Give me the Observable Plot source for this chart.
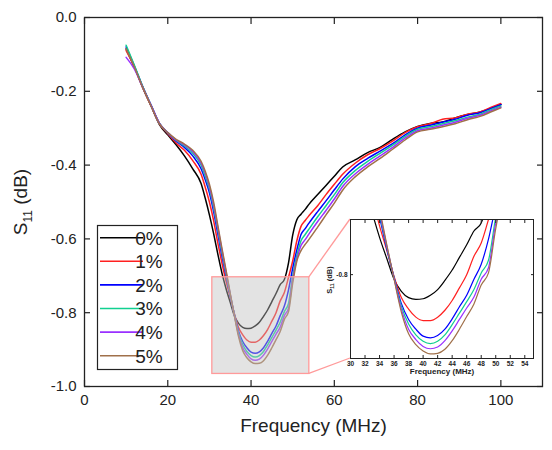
<!DOCTYPE html>
<html><head><meta charset="utf-8">
<script src="https://cdn.jsdelivr.net/npm/d3@7"></script>
<script src="https://cdn.jsdelivr.net/npm/@observablehq/plot@0.6"></script>
<style>
body{margin:0;background:#fff}
#wrap{position:relative;width:552px;height:450px}
#inset{position:absolute;left:318px;top:205px}
</style>
</head><body><div id="wrap"></div>
<script>
// ---- data ----
const freq = [10,12,14,16,18,20,22,24,26,28,29,30,31,32,33,34,35,36,37,38,39,40,41,42,43,44,45,46,47,48,49,50,51,52,53,54,56,58,60,62,65,68,71,74,77,80,83,86,89,92,95,98,100];
const s0 = [-0.085,-0.135,-0.19,-0.24,-0.29,-0.318,-0.345,-0.375,-0.41,-0.45,-0.49,-0.535,-0.585,-0.64,-0.692,-0.735,-0.772,-0.808,-0.829,-0.84,-0.843,-0.842,-0.836,-0.826,-0.81,-0.792,-0.77,-0.748,-0.724,-0.71,-0.665,-0.59,-0.548,-0.533,-0.52,-0.505,-0.48,-0.455,-0.43,-0.405,-0.386,-0.366,-0.352,-0.33,-0.31,-0.295,-0.287,-0.283,-0.272,-0.263,-0.256,-0.244,-0.236];
const s1 = [-0.09,-0.135,-0.19,-0.24,-0.288,-0.315,-0.34,-0.36,-0.388,-0.425,-0.46,-0.5,-0.55,-0.61,-0.665,-0.715,-0.758,-0.803,-0.84,-0.86,-0.874,-0.88,-0.88,-0.874,-0.862,-0.845,-0.823,-0.8,-0.768,-0.745,-0.704,-0.66,-0.605,-0.566,-0.55,-0.536,-0.51,-0.48,-0.452,-0.425,-0.395,-0.372,-0.355,-0.335,-0.312,-0.296,-0.288,-0.276,-0.272,-0.262,-0.256,-0.242,-0.233];
const s2 = [-0.08,-0.132,-0.188,-0.238,-0.287,-0.313,-0.335,-0.352,-0.375,-0.41,-0.44,-0.475,-0.525,-0.585,-0.645,-0.7,-0.755,-0.805,-0.85,-0.878,-0.895,-0.907,-0.91,-0.906,-0.895,-0.877,-0.856,-0.836,-0.808,-0.782,-0.738,-0.68,-0.63,-0.588,-0.572,-0.556,-0.526,-0.497,-0.467,-0.438,-0.405,-0.382,-0.362,-0.342,-0.318,-0.3,-0.292,-0.284,-0.276,-0.265,-0.258,-0.245,-0.236];
const s3 = [-0.075,-0.13,-0.188,-0.238,-0.287,-0.312,-0.333,-0.348,-0.368,-0.4,-0.43,-0.465,-0.515,-0.575,-0.637,-0.695,-0.752,-0.806,-0.855,-0.886,-0.905,-0.916,-0.92,-0.916,-0.905,-0.887,-0.867,-0.847,-0.826,-0.797,-0.775,-0.7,-0.645,-0.605,-0.588,-0.572,-0.54,-0.51,-0.48,-0.448,-0.415,-0.39,-0.368,-0.346,-0.322,-0.303,-0.296,-0.288,-0.28,-0.27,-0.262,-0.248,-0.24];
const s4 = [-0.108,-0.14,-0.19,-0.238,-0.287,-0.312,-0.332,-0.345,-0.363,-0.395,-0.422,-0.458,-0.507,-0.568,-0.63,-0.69,-0.75,-0.807,-0.86,-0.895,-0.913,-0.925,-0.929,-0.926,-0.915,-0.898,-0.878,-0.858,-0.839,-0.808,-0.788,-0.71,-0.655,-0.618,-0.602,-0.585,-0.553,-0.523,-0.492,-0.458,-0.424,-0.398,-0.375,-0.352,-0.327,-0.307,-0.3,-0.292,-0.284,-0.273,-0.265,-0.251,-0.243];
const s5 = [-0.085,-0.135,-0.19,-0.24,-0.288,-0.312,-0.33,-0.343,-0.36,-0.39,-0.417,-0.452,-0.5,-0.562,-0.625,-0.685,-0.748,-0.808,-0.865,-0.903,-0.922,-0.933,-0.938,-0.937,-0.93,-0.915,-0.895,-0.873,-0.851,-0.818,-0.797,-0.72,-0.66,-0.632,-0.615,-0.6,-0.568,-0.535,-0.503,-0.468,-0.432,-0.405,-0.382,-0.357,-0.332,-0.31,-0.303,-0.296,-0.288,-0.277,-0.268,-0.254,-0.245];
const seriesLabels = ["0%","1%","2%","3%","4%","5%"];
const seriesColors = ["#000000","#ff2020","#0000ff","#10d090","#9a30ff","#a0704a"];
const xTicks = [0,20,40,60,80,100];
const yTicks = [-1,-0.8,-0.6,-0.4,-0.2,0];
const insetXTicks = [30,32,34,36,38,40,42,44,46,48,50,52,54];
const insetYTicks = [-0.8];
const zoomX = [30.7, 54];
const zoomY = [-0.966, -0.704];
const insetXDomain = [30, 55.2];
const insetYDomain = [-0.946, -0.704];

const values = [s0,s1,s2,s3,s4,s5];
const rows = seriesLabels.flatMap((s,i) => freq.map((f,j) => ({s, f, v: values[i][j]})));
const fmt = d => d.toFixed(1);
const FONT = "'Liberation Sans', Arial, sans-serif";

const lineMarks = (sw, clip) => seriesLabels.map((lab,i) =>
  Plot.line(rows.filter(d => d.s === lab), {x:"f", y:"v", stroke: seriesColors[i], strokeWidth: sw, curve:"monotone-x", clip}));

// ---- main chart ----
const chart = Plot.plot({
  width: 552, height: 450,
  marginTop: 17, marginRight: 10, marginBottom: 64, marginLeft: 84,
  style: {fontFamily: FONT, fontSize: "15px", color: "#222", background: "white"},
  x: {domain: [0,110]},
  y: {domain: [-1,0]},
  marks: [
    ...lineMarks(1.5, false),
    Plot.rect([{x1: zoomX[0], x2: zoomX[1], y1: zoomY[0], y2: zoomY[1]}],
      {x1:"x1", x2:"x2", y1:"y1", y2:"y2", fill:"#c0c0c0", fillOpacity:0.44, stroke:"#ff9a9a", strokeWidth:1.3}),
    Plot.axisX(xTicks, {anchor:"bottom", tickSize:-6, fill:"none", strokeWidth:1.2}),
    Plot.axisX(xTicks, {anchor:"top", tickSize:-6, fill:"none", strokeWidth:1.2}),
    Plot.axisY(yTicks, {anchor:"left", tickSize:-6, fill:"none", strokeWidth:1.2}),
    Plot.axisY(yTicks, {anchor:"right", tickSize:-6, fill:"none", strokeWidth:1.2}),
    Plot.axisX(xTicks, {anchor:"bottom", tickSize:0, tickPadding:8, label:null, fontSize:15}),
    Plot.axisY(yTicks, {anchor:"left", tickSize:0, tickPadding:8, tickFormat: fmt, label:null, fontSize:15}),
    Plot.text(["Frequency (MHz)"], {frameAnchor:"bottom", dy:45, fontSize:19, fill:"#222"}),
    Plot.frame({stroke:"#222", strokeWidth:1.3})
  ]
});

const svg = d3.select(chart);
// y label with subscript
const yl = svg.append("text").attr("transform", "translate(27,202) rotate(-90)")
  .attr("text-anchor","middle").attr("font-size",19).attr("fill","#222").attr("font-family",FONT);
yl.append("tspan").text("S");
yl.append("tspan").attr("font-size",12).attr("dy",5).text("11");
yl.append("tspan").attr("dy",-5).text(" (dB)");

// legend
const lg = svg.append("g").attr("font-family",FONT);
lg.append("rect").attr("x",97.5).attr("y",225.5).attr("width",80).attr("height",144)
  .attr("fill","white").attr("stroke","#222").attr("stroke-width",1.2);
seriesLabels.forEach((lab,i) => {
  const y = 237.7 + i*23.6;
  lg.append("line").attr("x1",100).attr("x2",143).attr("y1",y).attr("y2",y)
    .attr("stroke",seriesColors[i]).attr("stroke-width",1.6);
  lg.append("text").attr("x",149).attr("y",y).attr("dy","0.36em").attr("font-size",19).attr("fill","#222").text(lab);
});

// inset layout
const IL = 318, IT = 205, IW = 220, IH = 180, ML = 32, MT = 14, MR = 5, MB = 27;
const sx = chart.scale("x"), sy = chart.scale("y");
const conn = [[zoomY[1], IT+MT], [zoomY[0], IT+IH-MB]];
conn.forEach(([yv, py]) => {
  svg.append("line").attr("x1", sx.apply(zoomX[1])).attr("y1", sy.apply(yv))
    .attr("x2", IL+ML).attr("y2", py).attr("stroke","#ff9a9a").attr("stroke-width",1.3);
});

document.getElementById("wrap").appendChild(chart);

// ---- inset ----
const inset = Plot.plot({
  width: IW, height: IH,
  marginTop: MT, marginRight: MR, marginBottom: MB, marginLeft: ML,
  style: {fontFamily: FONT, fontSize: "6.5px", fontWeight: "bold", color: "#222", background: "transparent", overflow: "visible"},
  x: {domain: insetXDomain},
  y: {domain: insetYDomain},
  marks: [
    Plot.frame({fill:"white"}),
    ...lineMarks(1.2, true),
    Plot.axisX(insetXTicks, {anchor:"bottom", tickSize:-3, fill:"none"}),
    Plot.axisX(insetXTicks, {anchor:"top", tickSize:-3, fill:"none"}),
    Plot.axisY(insetYTicks, {anchor:"left", tickSize:-3, fill:"none"}),
    Plot.axisY(insetYTicks, {anchor:"right", tickSize:-3, fill:"none"}),
    Plot.axisX(insetXTicks, {anchor:"bottom", tickSize:0, tickPadding:3, label:null, fontSize:6.5}),
    Plot.axisY(insetYTicks, {anchor:"left", tickSize:0, tickPadding:3, tickFormat: fmt, label:null, fontSize:6.5}),
    Plot.text(["Frequency (MHz)"], {frameAnchor:"bottom", dy:15, fontSize:8, fontWeight:"bold", fill:"#222"}),
    Plot.frame({stroke:"#222", strokeWidth:1})
  ]
});
inset.id = "inset";
const isvg = d3.select(inset);
const il = isvg.append("text").attr("transform", "translate(14,75) rotate(-90)")
  .attr("text-anchor","middle").attr("font-size",7.5).attr("font-weight","bold").attr("fill","#222").attr("font-family",FONT);
il.append("tspan").text("S");
il.append("tspan").attr("font-size",5).attr("dy",2).text("11");
il.append("tspan").attr("dy",-2).text(" (dB)");
document.getElementById("wrap").appendChild(inset);
</script>
</body></html>
